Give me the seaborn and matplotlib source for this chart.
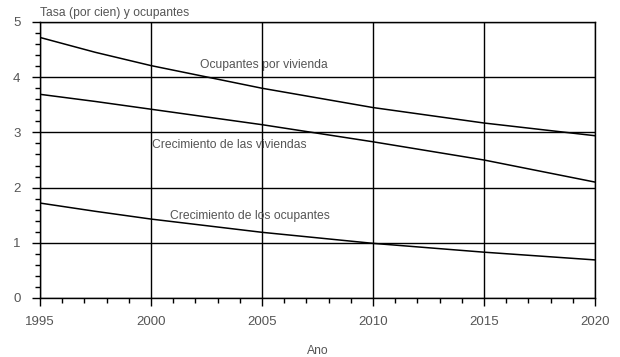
import matplotlib
matplotlib.use("Agg")
import matplotlib.pyplot as plt
import seaborn as sns
import pandas as pd
from matplotlib.ticker import MultipleLocator

sns.set_theme(style="white")
plt.rcParams['font.family'] = ['Liberation Sans', 'DejaVu Sans']

years = [1995, 1997.5, 2000, 2005, 2010, 2015, 2020]
ocupantes_por_vivienda = [4.72, 4.45, 4.21, 3.80, 3.45, 3.17, 2.94]
crecimiento_viviendas = [3.69, 3.56, 3.42, 3.14, 2.83, 2.50, 2.10]
crecimiento_ocupantes = [1.72, 1.57, 1.43, 1.19, 0.99, 0.83, 0.69]

series = {
    "Ocupantes por vivienda": ocupantes_por_vivienda,
    "Crecimiento de las viviendas": crecimiento_viviendas,
    "Crecimiento de los ocupantes": crecimiento_ocupantes,
}
df = pd.DataFrame(
    [(y, name, v) for name, vals in series.items() for y, v in zip(years, vals)],
    columns=["year", "serie", "valor"],
)

fig = plt.figure(figsize=(6.2, 3.57), dpi=100)
ax = fig.add_axes([40 / 620, 59 / 357, 555 / 620, 276 / 357])

sns.lineplot(data=df, x="year", y="valor", units="serie", estimator=None,
             color="black", linewidth=1.1, ax=ax, legend=False)

ax.set_xlim(1995, 2020)
ax.set_ylim(0, 5)
ax.xaxis.set_major_locator(MultipleLocator(5))
ax.xaxis.set_minor_locator(MultipleLocator(1))
ax.yaxis.set_major_locator(MultipleLocator(1))
ax.yaxis.set_minor_locator(MultipleLocator(0.2))
ax.grid(True, which="major", color="black", linewidth=1.0)
for s in ax.spines.values():
    s.set_color("black")
    s.set_linewidth(1.0)

txt = "#555555"
ax.tick_params(axis="both", which="major", direction="out", length=6, width=1,
               color="black", labelsize=9.5, labelcolor=txt)
ax.tick_params(axis="x", which="major", pad=7)
ax.tick_params(axis="y", which="major", pad=8)
ax.tick_params(axis="both", which="minor", direction="out", length=3.5, width=1,
               color="black")
ax.tick_params(axis="x", bottom=True, which="both")
ax.tick_params(axis="y", left=True, which="both")

ax.set_xlabel("Ano", fontsize=8.7, color=txt, labelpad=12)
ax.set_ylabel("")
fig.text(40 / 620, 1 - 13 / 357, "Tasa (por cien) y ocupantes", fontsize=8.7,
         color=txt, ha="left", va="center")

lab = dict(fontsize=8.7, color=txt, ha="left", va="center")
ax.text(2002.2, 4.22, "Ocupantes por vivienda", **lab)
ax.text(2000.05, 2.77, "Crecimiento de las viviendas", **lab)
ax.text(2000.85, 1.49, "Crecimiento de los ocupantes", **lab)

fig.savefig("out.png", dpi=100, facecolor="white")
